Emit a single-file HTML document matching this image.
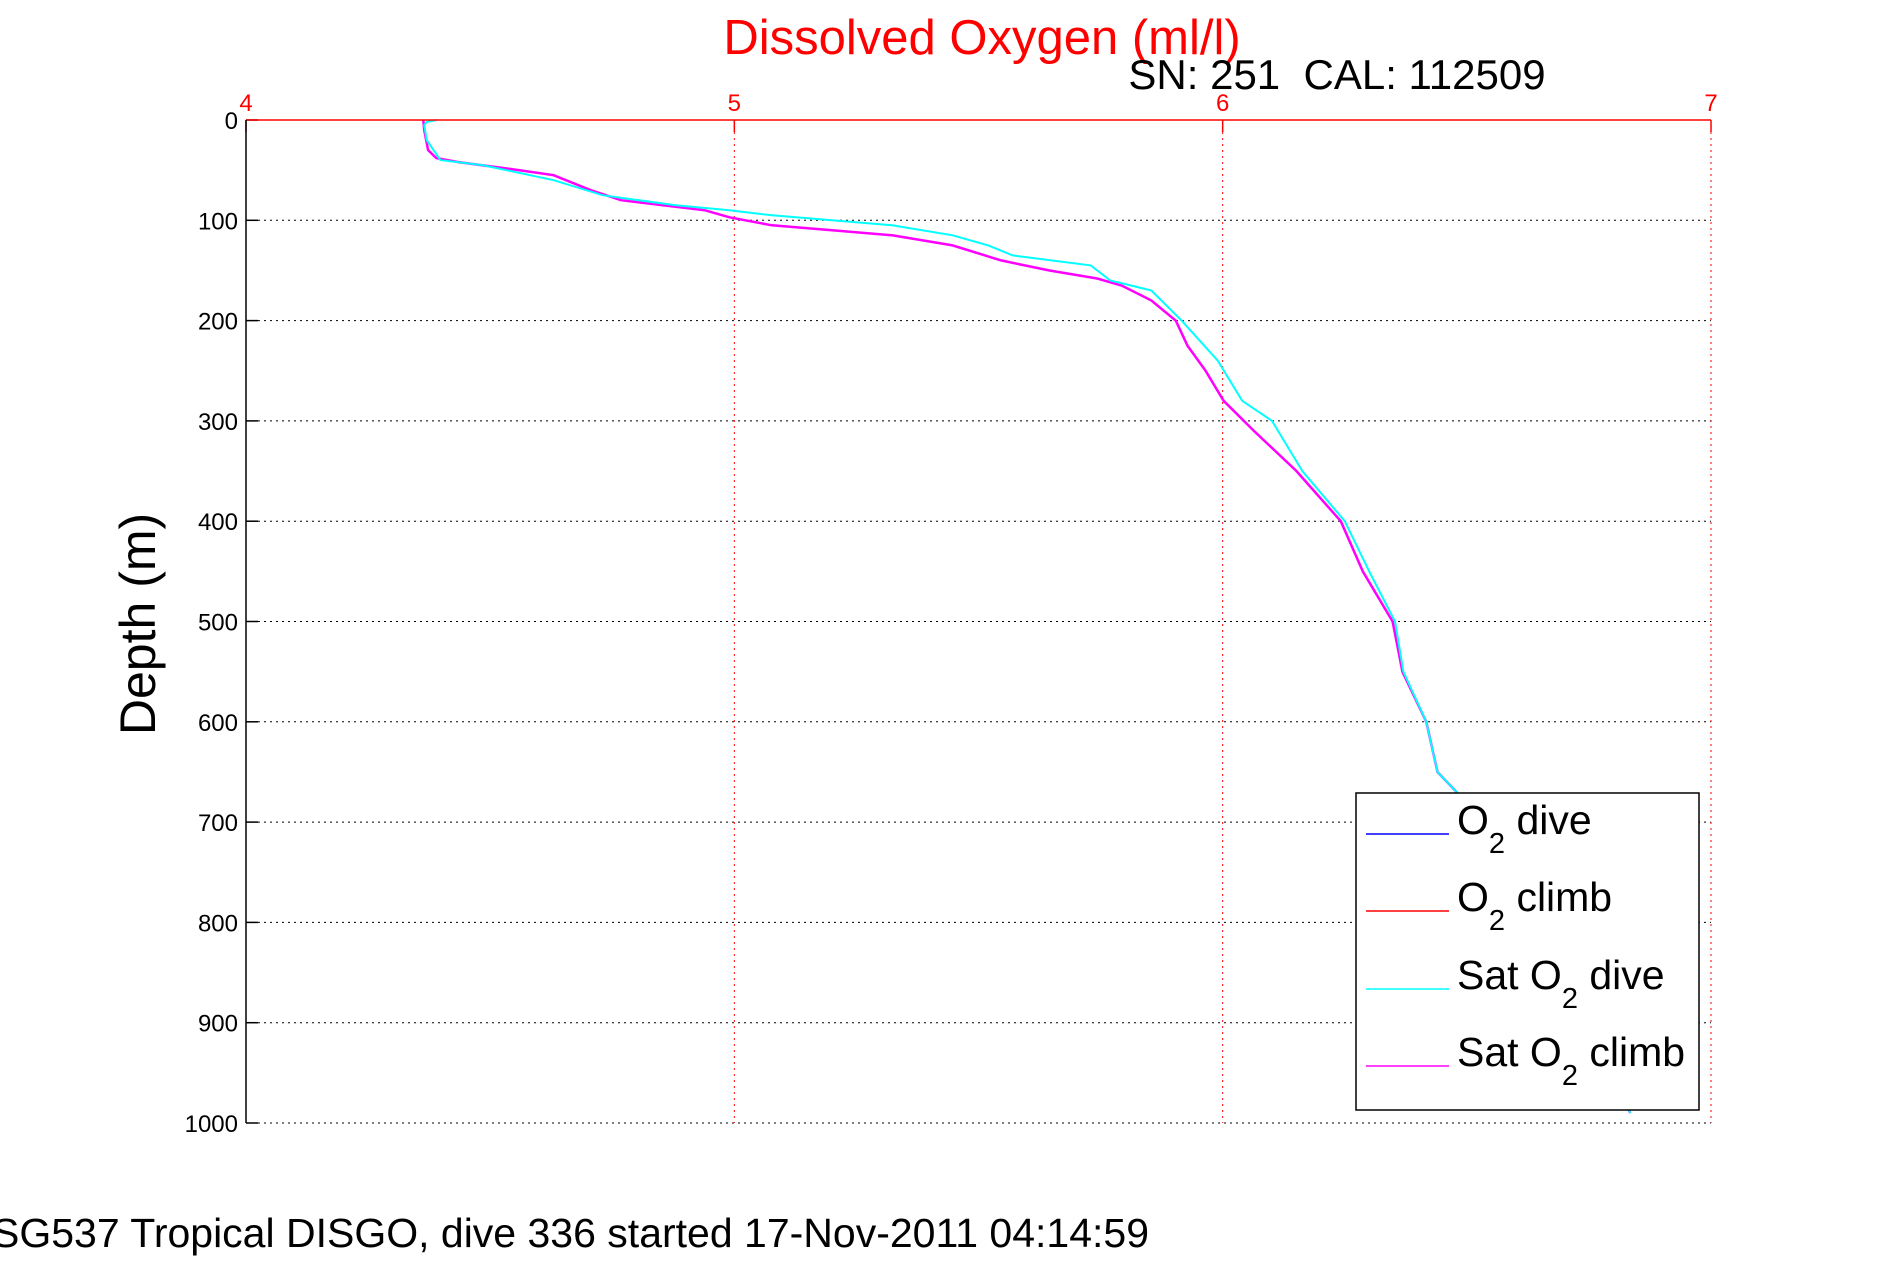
<!DOCTYPE html>
<html><head><meta charset="utf-8"><style>
html,body{margin:0;padding:0;background:#fff;}
svg{display:block;font-family:"Liberation Sans",sans-serif;}
</style></head><body>
<svg id="chart" width="1891" height="1262" viewBox="0 0 1891 1262" xmlns="http://www.w3.org/2000/svg">
<rect width="1891" height="1262" fill="#fff"/>
<text x="982" y="54" fill="#f00" font-size="49" text-anchor="middle">Dissolved Oxygen (ml/l)</text>
<text x="1337" y="89" fill="#000" font-size="42" text-anchor="middle" xml:space="preserve">SN: 251  CAL: 112509</text>
<text transform="translate(155,624) rotate(-90)" fill="#000" font-size="50" text-anchor="middle">Depth (m)</text>
<text x="-8" y="1247" fill="#000" font-size="41">SG537 Tropical DISGO, dive 336 started 17-Nov-2011 04:14:59</text>
<g id="grid"></g>
<g id="series"></g>
<g id="axes"></g>
<g>
<rect x="1356" y="793" width="343" height="317" fill="#fff" stroke="#000" stroke-width="1.5"/>
<line x1="1366" y1="834" x2="1449" y2="834" stroke="#00f" stroke-width="1.5"/>
<text x="1457" y="834" font-size="41">O<tspan font-size="29" dy="19">2</tspan><tspan dy="-19"> dive</tspan></text>
<line x1="1366" y1="911" x2="1449" y2="911" stroke="#f00" stroke-width="1.5"/>
<text x="1457" y="911" font-size="41">O<tspan font-size="29" dy="19">2</tspan><tspan dy="-19"> climb</tspan></text>
<line x1="1366" y1="989" x2="1449" y2="989" stroke="#0ff" stroke-width="1.5"/>
<text x="1457" y="989" font-size="41">Sat O<tspan font-size="29" dy="19">2</tspan><tspan dy="-19"> dive</tspan></text>
<line x1="1366" y1="1066" x2="1449" y2="1066" stroke="#f0f" stroke-width="1.5"/>
<text x="1457" y="1066" font-size="41">Sat O<tspan font-size="29" dy="19">2</tspan><tspan dy="-19"> climb</tspan></text>
</g>
</svg>
<script>
const xTicks = [4, 5, 6, 7];
const yTicks = [0, 100, 200, 300, 400, 500, 600, 700, 800, 900, 1000];
const diveDepth = [0, 2, 5, 20, 40, 45, 60, 75, 85, 90, 95, 100, 105, 115, 125, 135, 145, 160, 170, 200, 240, 280, 300, 350, 400, 450, 500, 550, 600, 650, 670, 750, 850, 950, 990];
const diveSat = [4.39, 4.37, 4.365, 4.37, 4.398, 4.484, 4.63, 4.73, 4.88, 4.99, 5.077, 5.2, 5.323, 5.447, 5.52, 5.57, 5.73, 5.77, 5.854, 5.916, 5.99, 6.04, 6.101, 6.163, 6.25, 6.30, 6.353, 6.37, 6.417, 6.44, 6.479, 6.56, 6.68, 6.79, 6.835];
const climbDepth = [0, 10, 30, 38, 42, 50, 55, 70, 80, 85, 90, 97, 105, 110, 115, 125, 140, 150, 158, 165, 180, 200, 225, 250, 280, 310, 350, 400, 450, 500, 550, 600, 650, 670, 750, 850, 950, 990];
const climbSat = [4.363, 4.365, 4.373, 4.39, 4.435, 4.56, 4.63, 4.706, 4.768, 4.854, 4.94, 4.99, 5.077, 5.2, 5.323, 5.447, 5.546, 5.644, 5.743, 5.793, 5.854, 5.904, 5.928, 5.965, 6.002, 6.064, 6.151, 6.242, 6.287, 6.348, 6.368, 6.417, 6.44, 6.479, 6.56, 6.68, 6.79, 6.835];

const L = 246, R = 1711, T = 120, B = 1123;
const xs = v => L + (v - 4) / 3 * (R - L);
const ys = d => T + d / 1000 * (B - T);
const NS = 'http://www.w3.org/2000/svg';
function mk(tag, attrs, parent) {
  const e = document.createElementNS(NS, tag);
  for (const k in attrs) e.setAttribute(k, attrs[k]);
  parent.appendChild(e);
  return e;
}
const gridG = document.getElementById('grid');
const axesG = document.getElementById('axes');
const seriesG = document.getElementById('series');

yTicks.forEach(d => {
  const y = ys(d);
  const g = mk('line', {x1: L, y1: y, x2: R, y2: y, stroke: '#000', 'stroke-width': 1, 'stroke-dasharray': '2,4'}, gridG);
  
  
  const t = mk('line', {x1: L, y1: y, x2: L + 12, y2: y, stroke: '#000', 'stroke-width': 1.5}, axesG);
  
  
  const lb = mk('text', {x: L - 8, y: y + 9, 'font-size': 24, 'text-anchor': 'end', fill: '#000'}, axesG);
  lb.textContent = d;
  
  
});
xTicks.forEach(v => {
  const x = xs(v);
  if (v > 4) {
    const g = mk('line', {x1: x, y1: T, x2: x, y2: B, stroke: '#f00', 'stroke-width': 1, 'stroke-dasharray': '2,4'}, gridG);
    
    
  }
  const t = mk('line', {x1: x, y1: T, x2: x, y2: T + 12, stroke: '#f00', 'stroke-width': 1.5}, axesG);
  
  
  const lb = mk('text', {x: x, y: T - 9, 'font-size': 24, 'text-anchor': 'middle', fill: '#f00'}, axesG);
  lb.textContent = v;
  
  
});
const topLine = mk('line', {x1: L, y1: T, x2: R, y2: T, stroke: '#f00', 'stroke-width': 1.5}, axesG);


const leftLine = mk('line', {x1: L, y1: T, x2: L, y2: B, stroke: '#000', 'stroke-width': 1.5}, axesG);



function linePath(vals, depths) {
  let d = '';
  vals.forEach((v, i) => { d += (i ? 'L' : 'M') + xs(v).toFixed(1) + ',' + ys(depths[i]).toFixed(1); });
  return d;
}
const pc = mk('path', {d: linePath(climbSat, climbDepth), fill: 'none', stroke: '#f0f', 'stroke-width': 2.5}, seriesG);


const pd = mk('path', {d: linePath(diveSat, diveDepth), fill: 'none', stroke: '#0ff', 'stroke-width': 2}, seriesG);


</script>
</body></html>
